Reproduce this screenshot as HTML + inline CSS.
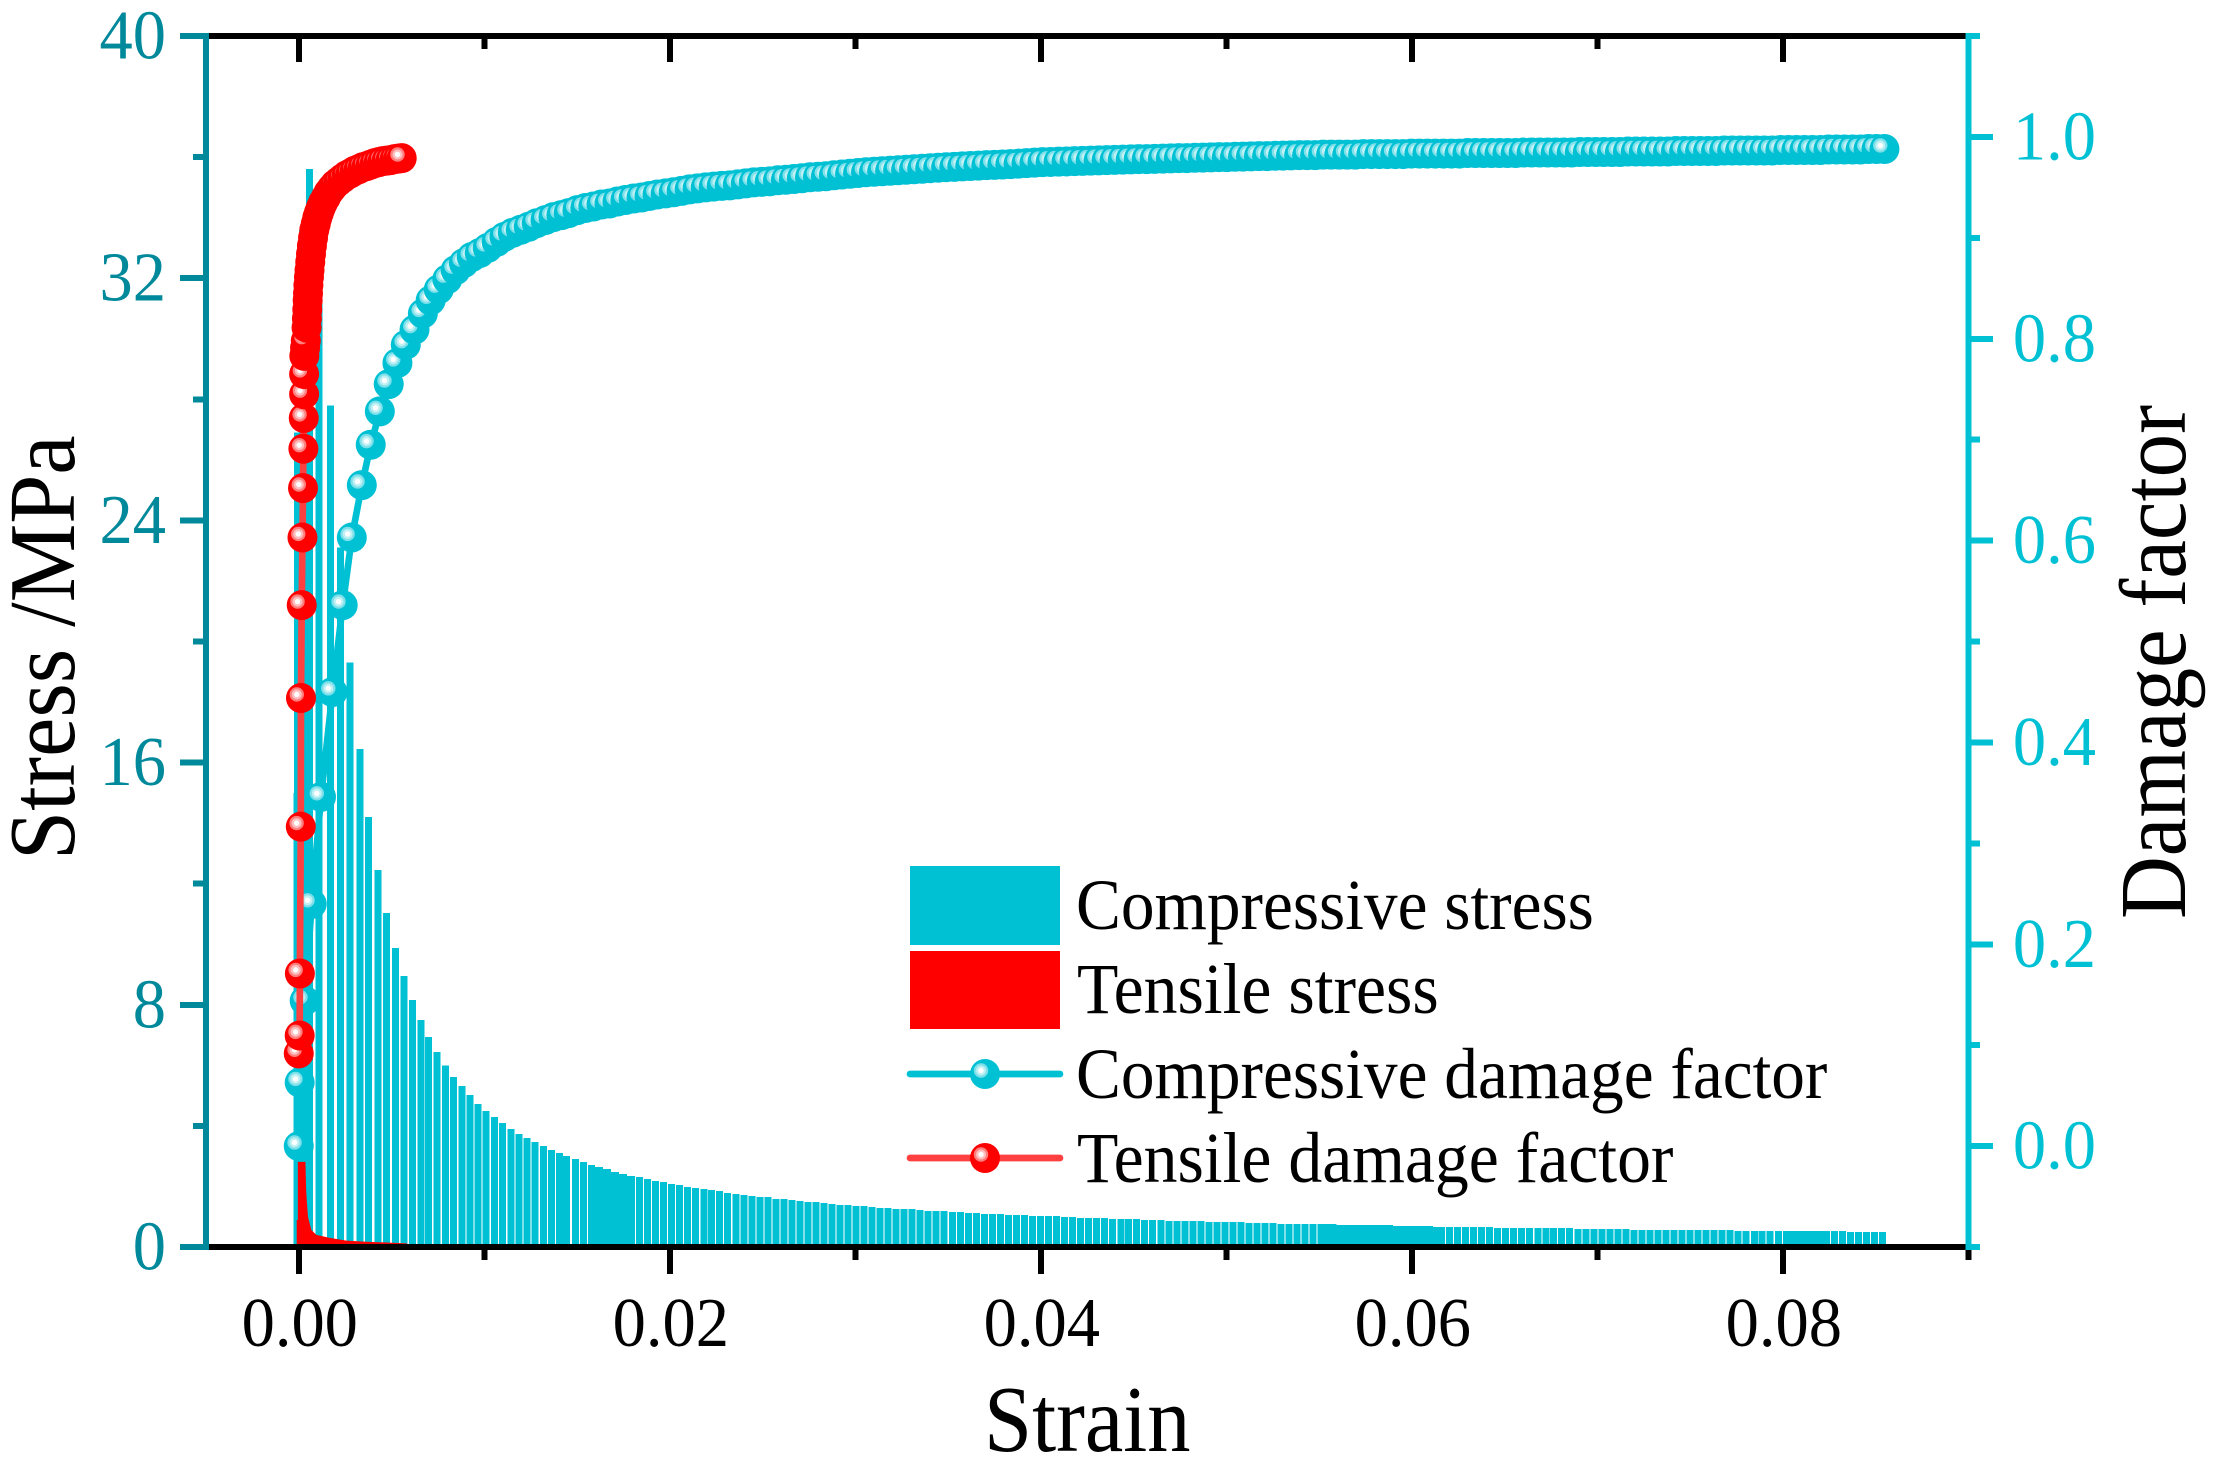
<!DOCTYPE html>
<html lang="en">
<head>
<meta charset="utf-8">
<title>Stress and damage factor versus strain</title>
<style>
html,body{margin:0;padding:0;background:#fff;}
svg{display:block;font-family:"Liberation Serif","Times New Roman",serif;}
</style>
</head>
<body>
<svg id="chart" xmlns="http://www.w3.org/2000/svg" width="2226" height="1480" viewBox="0 0 2226 1480">
  <rect x="0" y="0" width="2226" height="1480" fill="#fff"/>
  <g id="series-layer"></g>
  <g id="axis-layer"></g>
  <text transform="translate(984,1451) scale(.92,1)" font-size="94" fill="#000">Strain</text>
  <text transform="translate(74,860) rotate(-90) scale(.94,1)" font-size="94" fill="#000">Stress /MPa</text>
  <text transform="translate(2185,919) rotate(-90) scale(.925,1)" font-size="94" fill="#000">Damage factor</text>
  <g>
    <g>
      <rect x="910" y="866" width="150" height="79" fill="#00c1d4"/>
      <text transform="translate(1076,929) scale(.935,1)" font-size="72" fill="#000">Compressive stress</text>
    </g>
    <g>
      <rect x="910" y="951" width="150" height="78" fill="#ff0000"/>
      <text transform="translate(1077,1013) scale(.94,1)" font-size="72" fill="#000">Tensile stress</text>
    </g>
    <g>
      <line x1="910" y1="1074" x2="1060" y2="1074" stroke="#00c1d4" stroke-width="6.7" stroke-linecap="round"/>
      <circle cx="985" cy="1074" r="15" fill="#00c1d4"/>
      <circle cx="981" cy="1070.5" r="7.2" fill="#7fe0ea"/>
      <circle cx="981" cy="1070.5" r="5" fill="#bff0f4"/>
      <circle cx="981" cy="1070.5" r="2.7" fill="#fff"/>
      <text transform="translate(1076,1098) scale(.935,1)" font-size="72" fill="#000">Compressive damage factor</text>
    </g>
    <g>
      <line x1="910" y1="1158" x2="1060" y2="1158" stroke="#ff4040" stroke-width="6.7" stroke-linecap="round"/>
      <circle cx="985" cy="1158" r="15" fill="#ff0000"/>
      <circle cx="981" cy="1154.5" r="7.2" fill="#ff7f7f"/>
      <circle cx="981" cy="1154.5" r="5" fill="#ffbfbf"/>
      <circle cx="981" cy="1154.5" r="2.7" fill="#fff"/>
      <text transform="translate(1077,1182) scale(.94,1)" font-size="72" fill="#000">Tensile damage factor</text>
    </g>
  </g>
</svg>
<script>
/* ---------- data ---------- */
var xTickLabels = ["0.00", "0.02", "0.04", "0.06", "0.08"];
var xMajorTicks = [0, 0.02, 0.04, 0.06, 0.08];
var xMinorTicks = [0.01, 0.03, 0.05, 0.07, 0.09];
var stressTickLabels = ["0", "8", "16", "24", "32", "40"];
var stressMajorTicks = [0, 8, 16, 24, 32, 40];
var stressMinorTicks = [4, 12, 20, 28, 36];
var damageTickLabels = ["0.0", "0.2", "0.4", "0.6", "0.8", "1.0"];
var damageMajorTicks = [0, 0.2, 0.4, 0.6, 0.8, 1.0];
var damageMinorTicks = [-0.1, 0.1, 0.3, 0.5, 0.7, 0.9, 1.1];

var compressiveStrain = [
0,.00005,.00032,.0007,.0012,.00182,.00237,.00286,.0034,.00388,
.00437,.00485,.00532,.00577,.00624,.00669,.00711,.00755,.00801,.00846,
.0089,.00933,.00976,.01019,.01067,.01109,.01154,.01197,.0124,.01283,
.0133,.01373,.01416,.01455,
.01502,.01545,.01588,.01632,.01675,.01718,.01761,.01805,.01848,.01891,
.01934,.01978,.02021,.02064,.02107,.0215,.02194,.02237,.0228,.02323,
.02367,.0241,.02453,.02496,.02539,.02583,.02626,.02669,.02712,.02756,
.02799,.02842,.02885,.02928,.02972,.03015,.03058,.03101,.03145,.03188,
.03231,.03274,.03317,.03361,.03404,.03447,.0349,.03534,.03577,.0362,
.03664,.03707,.0375,.03793,.03836,.0388,.03923,.03966,.04009,.04053,
.04096,.04139,.04182,.04225,.04269,.04312,.04355,.04398,.04442,.04485,
.04528,.04571,.04614,.04658,.04701,.04744,.04787,.04831,.04874,.04917,
.0496,.05003,.05047,.0509,.05133,.05176,.0522,.05263,.05306,.05349,
.05393,.05436,.05479,.05522,.05565,.05609,.05652,.05695,.05738,.05782,
.05825,.05868,.05911,.05954,.05998,.06041,.06084,.06127,.06171,.06214,
.06257,.063,.06343,.06387,.0643,.06473,.06516,.0656,.06603,.06646,
.0669,.06733,.06776,.06819,.06862,.06906,.06949,.06992,.07035,.07079,
.07122,.07165,.07208,.07251,.07295,.07338,.07381,.07424,.07468,.07511,
.07554,.07597,.0764,.07684,.07727,.0777,.07813,.07857,.079,.07943,
.07987,.0803,.08073,.08116,.08159,.08203,.08246,.08289,.08332,.08376,
.08419,.08462,.08505,.08548];

var compressiveStress = [
15,26.9,33.6,35.6,31.25,27.8,23.1,19.3,16.45,14.2,
12.45,11.03,9.87,8.95,8.16,7.5,6.93,6.44,6,5.62,
5.32,5.02,4.72,4.49,4.29,4.1,3.9,3.73,3.6,3.47,
3.34,3.2,3.1,3,
2.91,2.81,2.71,2.64,2.58,2.48,2.41,2.35,2.31,2.25,
2.18,2.15,2.08,2.05,1.98,1.95,1.92,1.88,1.85,1.78,
1.75,1.72,1.68,1.65,1.65,1.59,1.59,1.55,1.52,1.49,
1.49,1.45,1.42,1.39,1.39,1.35,1.35,1.32,1.29,1.29,
1.26,1.26,1.26,1.22,1.19,1.19,1.19,1.16,1.16,1.12,
1.12,1.09,1.09,1.09,1.06,1.06,1.06,1.02,1.02,1.02,
1.02,.99,.99,.96,.96,.96,.96,.93,.93,.93,
.93,.89,.89,.89,.86,.86,.86,.86,.86,.83,
.83,.83,.83,.83,.79,.79,.79,.79,.76,.76,
.76,.76,.76,.76,.76,.73,.73,.73,.73,.73,
.73,.73,.69,.69,.69,.69,.69,.66,.66,.66,
.66,.66,.66,.66,.66,.63,.63,.63,.63,.63,
.63,.63,.63,.63,.63,.59,.59,.59,.59,.59,
.59,.59,.56,.56,.56,.56,.56,.56,.56,.56,
.56,.56,.56,.56,.56,.53,.53,.53,.53,.53,
.53,.53,.53,.53,.53,.53,.53,.53,.53,.5,
.5,.5,.5,.5];

var overlapStrain = [.0161,.01653,.01697,.0174,.01783,
.05544,.05587,.0563,.05674,.05717,.0576,.05803,.05846,.0589,.05933,.05976,.06019,.06062,.06106,.06149,
.08052,.08095,.08138,.08181,.08225];
var overlapStress = [2.64,2.58,2.48,2.41,2.35,
.76,.76,.73,.73,.73,.73,.73,.73,.73,.69,.69,.69,.69,.69,.66,
.53,.53,.53,.53,.53];

var compressiveDamage = [
0,.063,.144,.24,.346,.45,.536,.603,.655,.695,
.728,.755,.776,.794,.809,.825,.838,.849,.859,.868,
.875,.881,.885,.89,.896,.901,.905,.908,.911,.9145,
.9176,.9205,.9225,.9245,
.9275,.9295,.931,.933,.934,.936,.9375,.939,.94,.9415,
.943,.944,.9452,.9465,.948,.949,.95,.9508,.9515,.952,
.953,.954,.955,.9555,.956,.957,.9575,.9583,.959,.96,
.9605,.961,.962,.9627,.9635,.9642,.965,.9655,.966,.9665,
.967,.9675,.968,.9685,.969,.9695,.97,.9703,.9708,.9712,
.9715,.972,.9723,.9727,.973,.9735,.974,.9745,.975,.9752,
.9755,.9757,.976,.9762,.9765,.9768,.977,.9772,.9775,.9777,
.978,.978,.9782,.9785,.9787,.979,.979,.9793,.9795,.9797,
.98,.98,.9803,.9805,.9807,.981,.981,.9813,.9815,.9817,
.982,.982,.982,.9825,.9825,.9825,.9825,.9825,.983,.983,
.983,.983,.983,.983,.9835,.9835,.9835,.9835,.9835,.9835,
.9835,.984,.984,.984,.984,.984,.984,.984,.9845,.9845,
.9845,.9845,.9845,.9845,.9845,.985,.985,.985,.985,.985,
.985,.9855,.9855,.9855,.9855,.9855,.9855,.986,.986,.986,
.986,.986,.986,.9865,.9865,.9865,.9865,.9865,.9865,.9865,
.987,.987,.987,.987,.987,.987,.9875,.9875,.9875,.9875,
.9875,.988,.988,.988];

var tensileDamageStrain = [0,.00005,.00006,.00011,.00012,.00016,.0002,.00023,.00025,.00027,
.00029,.00029,.0003,.00034,.00038,.00042,.00044,.00046,.00048,.0005,
.00052,.00055,.00058,.00062,.00066,.00071,.00077,.00084,.00092,.001,
.00109,.00119,.00131,.00146,.00161,.00178,.00196,.00216,.00237,.00259,
.0028,.00302,.00323,.00345,.00366,.00388,.0041,.00431,.00452,.00474,
.00495,.00517,.00536,.00555];
var tensileDamage = [.0918,.1096,.171,.3165,.444,.536,.603,.652,.691,.7215,
.745,.765,.783,.791,.798,.811,.82,.829,.838,.845,
.853,.861,.868,.876,.884,.892,.9,.908,.914,.92,
.925,.93,.935,.94,.945,.949,.953,.956,.959,.962,
.964,.9665,.968,.97,.971,.9725,.974,.975,.976,.9765,
.977,.978,.9785,.979];

var tensileStressStrain = [-.00011,-.00005,-.00005,.00036,.0004,.00043,.0005,.00068,.00095,.00167,.00257,.00365,.0058,.00587];
var tensileStress = [.89,.89,2.81,2.81,1.88,1.55,.99,.56,.4,.3,.21,.175,.12,.1];

/* ---------- scales ---------- */
var plot = {left: 206, right: 1968.3, top: 36, bottom: 1247};
var xDomain = [-0.005, 0.09];
var stressDomain = [0, 40];
var damageDomain = [-0.1, 1.1];
function xScale(v) { return plot.left + (v - xDomain[0]) / (xDomain[1] - xDomain[0]) * (plot.right - plot.left); }
function stressScale(v) { return plot.bottom - (v - stressDomain[0]) / (stressDomain[1] - stressDomain[0]) * (plot.bottom - plot.top); }
function damageScale(v) { return plot.bottom - (v - damageDomain[0]) / (damageDomain[1] - damageDomain[0]) * (plot.bottom - plot.top); }

var NS = "http://www.w3.org/2000/svg";
var seriesLayer = document.getElementById("series-layer");
var axisLayer = document.getElementById("axis-layer");
var CYAN = "#00c1d4", TEAL = "#00899a", RED = "#ff0000", REDLINE = "#ff4040";
var BAR_WIDTH = 7, BAR_SHIFT = -2;

function drawBar(strain, stress, parent) {
  var el = document.createElementNS(NS, "rect");
  var top = stressScale(stress);
  el.setAttribute("x", xScale(strain) + BAR_SHIFT - BAR_WIDTH / 2);
  el.setAttribute("y", top);
  el.setAttribute("width", BAR_WIDTH);
  el.setAttribute("height", plot.bottom - top);
  el.setAttribute("fill", CYAN);
  el.setAttribute("shape-rendering", "crispEdges");
  
  
  parent.appendChild(el);
}

function drawLine(xs, ys, color, parent, name) {
  var pts = [];
  for (var i = 0; i < xs.length; i++) {
    pts.push(xScale(xs[i]).toFixed(2) + "," + damageScale(ys[i]).toFixed(2));
  }
  var el = document.createElementNS(NS, "polyline");
  el.setAttribute("points", pts.join(" "));
  el.setAttribute("fill", "none");
  el.setAttribute("stroke", color);
  el.setAttribute("stroke-width", "6.7");
  el.setAttribute("stroke-linejoin", "round");
  
  
  parent.appendChild(el);
}

function drawBall(cx, cy, base, ring, glow, parent, name) {
  var g = document.createElementNS(NS, "g");
  
  
  var layers = [[0, 0, 15, base], [-4.2, -3.6, 7.2, ring], [-4.2, -3.6, 5, glow], [-4.2, -3.6, 2.7, "#fff"]];
  for (var i = 0; i < layers.length; i++) {
    var c = document.createElementNS(NS, "circle");
    c.setAttribute("cx", (cx + layers[i][0]).toFixed(2));
    c.setAttribute("cy", (cy + layers[i][1]).toFixed(2));
    c.setAttribute("r", layers[i][2]);
    c.setAttribute("fill", layers[i][3]);
    g.appendChild(c);
  }
  parent.appendChild(g);
}

/* compressive stress bars */
var barGroup = document.createElementNS(NS, "g");


seriesLayer.appendChild(barGroup);
compressiveStrain.forEach(function (s, i) { drawBar(s, compressiveStress[i], barGroup); });
overlapStrain.forEach(function (s, i) { drawBar(s, overlapStress[i], barGroup); });

/* tensile stress area */
var areaPts = [xScale(tensileStressStrain[0]).toFixed(2) + "," + plot.bottom];
tensileStressStrain.forEach(function (s, i) {
  areaPts.push(xScale(s).toFixed(2) + "," + stressScale(tensileStress[i]).toFixed(2));
});
areaPts.push(xScale(tensileStressStrain[tensileStressStrain.length - 1]).toFixed(2) + "," + plot.bottom);
var tensileArea = document.createElementNS(NS, "polygon");
tensileArea.setAttribute("points", areaPts.join(" "));
tensileArea.setAttribute("fill", RED);


seriesLayer.appendChild(tensileArea);

/* compressive damage */
var compGroup = document.createElementNS(NS, "g");


seriesLayer.appendChild(compGroup);
drawLine(compressiveStrain, compressiveDamage, CYAN, compGroup, 'compressive-damage-line');
compressiveStrain.forEach(function (s, i) {
  drawBall(xScale(s), damageScale(compressiveDamage[i]), CYAN, "#7fe0ea", "#bff0f4", compGroup, 'compressive-damage-point');
});

/* tensile damage */
var tensGroup = document.createElementNS(NS, "g");


seriesLayer.appendChild(tensGroup);
drawLine(tensileDamageStrain, tensileDamage, REDLINE, tensGroup, 'tensile-damage-line');
tensileDamageStrain.forEach(function (s, i) {
  drawBall(xScale(s), damageScale(tensileDamage[i]), RED, "#ff7f7f", "#ffbfbf", tensGroup, 'tensile-damage-point');
});

/* axes */
function seg(x1, y1, x2, y2, color, name) {
  var el = document.createElementNS(NS, "line");
  el.setAttribute("x1", x1);
  el.setAttribute("y1", y1);
  el.setAttribute("x2", x2);
  el.setAttribute("y2", y2);
  el.setAttribute("stroke", color);
  el.setAttribute("stroke-width", "6");
  el.setAttribute("shape-rendering", "crispEdges");
  
  
  axisLayer.appendChild(el);
}
function label(str, x, y, anchor, color, name) {
  var el = document.createElementNS(NS, "text");
  el.textContent = str;
  el.setAttribute("transform", "translate(" + x + "," + y + ") scale(.95,1)");
  el.setAttribute("font-size", "70");
  el.setAttribute("text-anchor", anchor);
  el.setAttribute("fill", color);
  
  
  axisLayer.appendChild(el);
}

seg(plot.left, plot.top, plot.right, plot.top, "#000", 'top-x-axis-line');
seg(plot.left, plot.bottom, plot.right, plot.bottom, "#000", 'bottom-x-axis-line');
xMajorTicks.forEach(function (v, i) {
  var x = xScale(v);
  seg(x, plot.bottom, x, 1274, "#000", 'x-major-tick');
  seg(x, plot.top, x, 62, "#000", 'top-x-major-tick');
  label(xTickLabels[i], x + 1, 1346, "middle", "#000", 'x-tick-label');
});
xMinorTicks.forEach(function (v) {
  var x = xScale(v);
  seg(x, plot.bottom, x, 1260, "#000", 'x-minor-tick');
  seg(x, plot.top, x, 49, "#000", 'top-x-minor-tick');
});

seg(plot.left, plot.top - 3, plot.left, plot.bottom + 3, TEAL, 'left-y-axis-line');
stressMajorTicks.forEach(function (v, i) {
  var y = stressScale(v);
  seg(180, y, plot.left + 3, y, TEAL, 'stress-major-tick');
  label(stressTickLabels[i], 166, y + 22.5, "end", TEAL, 'stress-tick-label');
});
stressMinorTicks.forEach(function (v) {
  var y = stressScale(v);
  seg(193, y, plot.left, y, TEAL, 'stress-minor-tick');
});

seg(plot.right, plot.top - 3, plot.right, plot.bottom + 3, CYAN, 'right-y-axis-line');
damageMajorTicks.forEach(function (v, i) {
  var y = damageScale(v);
  seg(plot.right, y, 1993, y, CYAN, 'damage-major-tick');
  label(damageTickLabels[i], 2096, y + 22.5, "end", CYAN, 'damage-tick-label');
});
damageMinorTicks.forEach(function (v) {
  var y = damageScale(v);
  seg(plot.right - 3, y, 1980, y, CYAN, 'damage-minor-tick');
});
</script>
</body>
</html>
